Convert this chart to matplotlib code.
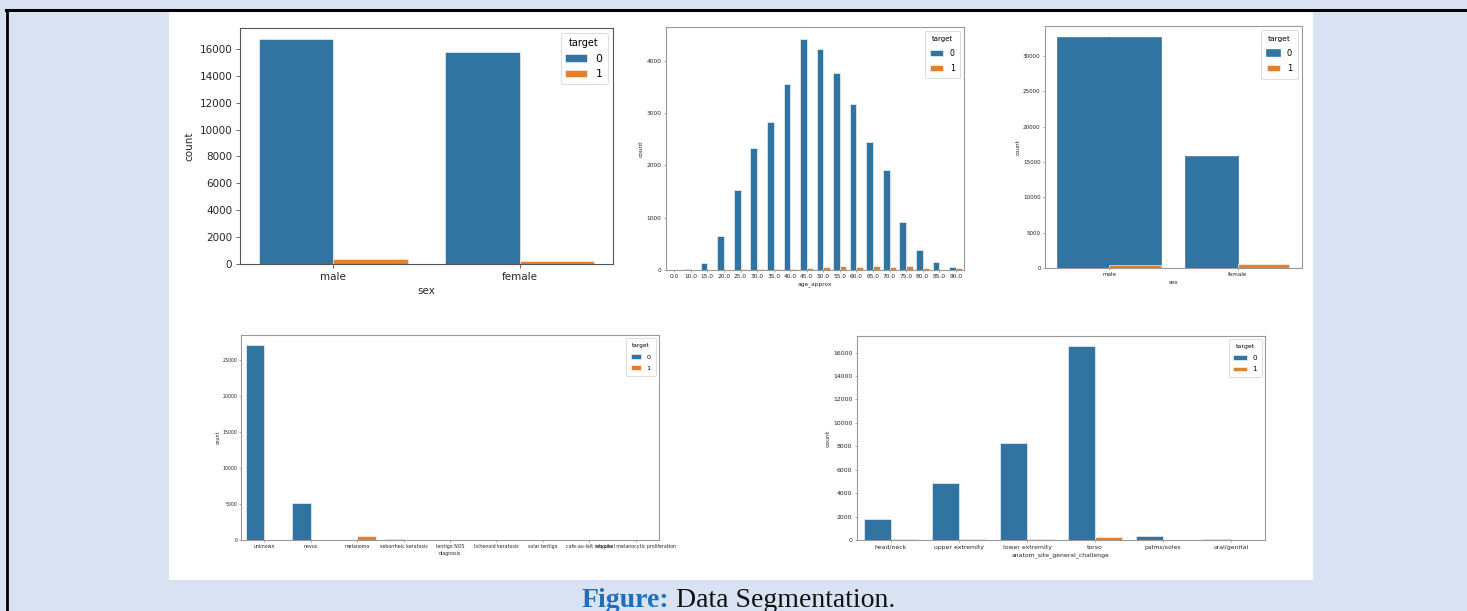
import numpy as np
import matplotlib
matplotlib.use("Agg")
import matplotlib.pyplot as plt
from matplotlib.patches import Rectangle
from matplotlib.lines import Line2D

# ---------------- data ----------------
sex_cats = ['male', 'female']
sex_t0 = [16716, 15761]
sex_t1 = [390, 240]

age_cats = ['0.0', '10.0', '15.0', '20.0', '25.0', '30.0', '35.0', '40.0', '45.0',
            '50.0', '55.0', '60.0', '65.0', '70.0', '75.0', '80.0', '85.0', '90.0']
age_t0 = [2, 17, 129, 652, 1530, 2338, 2828, 3555, 4420,
          4217, 3753, 3179, 2451, 1908, 910, 382, 146, 51]
age_t1 = [0, 0, 0, 3, 14, 20, 22, 21, 46, 53, 71, 61, 76, 60, 71, 37, 3, 29]

sex2_cats = ['male', 'female']
sex2_t0 = [32600, 15730]
sex2_t0_back = [32600, 0]     # second blue bar behind the orange one (male)
sex2_t1 = [360, 580]

diag_cats = ['unknown', 'nevus', 'melanoma', 'seborrheic keratosis', 'lentigo NOS',
             'lichenoid keratosis', 'solar lentigo', 'cafe-au-lait macule',
             'atypical melanocytic proliferation']
diag_t0 = [27124, 5193, 0, 135, 44, 37, 7, 1, 1]
diag_t1 = [0, 0, 584, 0, 0, 0, 0, 0, 0]

site_cats = ['head/neck', 'upper extremity', 'lower extremity', 'torso',
             'palms/soles', 'oral/genital']
site_t0 = [1781, 4872, 8293, 16588, 370, 122]
site_t1 = [74, 111, 124, 257, 5, 2]

legend_title = 'target'
legend_labels = ['0', '1']

BLUE = '#3274a1'
ORANGE = '#e1812c'
BG = '#d9e2f3'

W, H = 1467, 611
fig = plt.figure(figsize=(W / 100, H / 100), dpi=100)
fig.patch.set_facecolor(BG)

# white panel
fig.add_artist(Rectangle((169 / W, 1 - 580 / H), (1313 - 169) / W, (580 - 11) / H,
                         transform=fig.transFigure, facecolor='white', edgecolor='none',
                         zorder=0))
# black borders (top and left)
fig.add_artist(Line2D([6 / W, 1], [1 - 10 / H, 1 - 10 / H], transform=fig.transFigure,
                      color='black', lw=2.2, zorder=1))
fig.add_artist(Line2D([7 / W, 7 / W], [0, 1 - 10 / H], transform=fig.transFigure,
                      color='black', lw=2.0, zorder=1))


def px_axes(x0, y0, x1, y1):
    return fig.add_axes([x0 / W, 1 - y1 / H, (x1 - x0) / W, (y1 - y0) / H])


def style(ax, fs, spine_col, lfs, xlabel, ylabel, tl, lspace=0.5, bpad=0.4, hl=2.0):
    for s in ax.spines.values():
        s.set_color(spine_col)
        s.set_linewidth(0.8)
    ax.tick_params(labelsize=fs, length=tl, width=0.6, color=spine_col,
                   pad=fs * 0.4, labelcolor='#262626')
    ax.set_xlabel(xlabel, fontsize=fs, color='#262626', labelpad=fs * 0.45)
    ax.set_ylabel(ylabel, fontsize=fs, color='#262626', labelpad=fs * 0.45)
    leg = ax.legend(title=legend_title, loc='upper right', fontsize=lfs,
                    title_fontsize=lfs * 0.9, labelspacing=lspace, borderpad=bpad,
                    handlelength=hl)
    leg.get_frame().set_linewidth(0.6)


def countbars(ax, cats, t0, t1, back=None, lw=0.4):
    x = np.arange(len(cats))
    if back is not None:
        ax.bar(x + 0.2, back, 0.4, color=BLUE, edgecolor=BLUE, linewidth=1.2)
        ax.bar(x - 0.2, t0, 0.4, color=BLUE, edgecolor=BLUE, linewidth=1.2,
               label=legend_labels[0])
    else:
        ax.bar(x - 0.2, t0, 0.4, color=BLUE, edgecolor='white', linewidth=lw,
               label=legend_labels[0])
    ax.bar(x + 0.2, t1, 0.4, color=ORANGE, edgecolor='white', linewidth=lw,
           label=legend_labels[1])
    ax.set_xticks(x)
    ax.set_xticklabels(cats)
    ax.set_xlim(-0.5, len(cats) - 0.5)


# panel 1
ax1 = px_axes(240, 28, 613, 264)
countbars(ax1, sex_cats, sex_t0, sex_t1)
style(ax1, 7.5, '#555555', 7.8, 'sex', 'count', 2.6, lspace=0.5, bpad=0.45)

# panel 2
ax2 = px_axes(666, 27, 964, 270)
countbars(ax2, age_cats, age_t0, age_t1)
style(ax2, 4.2, '#999999', 5.6, 'age_approx', 'count', 1.5,
      lspace=0.8, bpad=0.7, hl=1.7)

# panel 3
ax3 = px_axes(1045, 26, 1302, 268)
countbars(ax3, sex2_cats, sex2_t0, sex2_t1, back=sex2_t0_back)
style(ax3, 4.1, '#999999', 6.0, 'sex', 'count', 1.5,
      lspace=0.8, bpad=0.7, hl=1.6)

# panel 4
ax4 = px_axes(241, 335, 659, 540)
countbars(ax4, diag_cats, diag_t0, diag_t1)
style(ax4, 3.4, '#999999', 4.6, 'diagnosis', 'count', 1.2,
      lspace=0.9, bpad=0.8, hl=1.6)

# panel 5
ax5 = px_axes(857, 336, 1265, 540)
countbars(ax5, site_cats, site_t0, site_t1)
style(ax5, 4.4, '#999999', 5.0, 'anatom_site_general_challenge', 'count', 1.6,
      lspace=0.8, bpad=0.7, hl=1.9)

# caption
t1 = fig.text(582 / W, 1 - 607 / H, 'Figure:', fontsize=20, fontweight='bold',
              family='Liberation Serif', color='#1f6fbf', ha='left', va='baseline')
fig.canvas.draw()
bb = t1.get_window_extent()
fig.text(bb.x1 / W + 6 / W, 1 - 607 / H, 'Data Segmentation.', fontsize=20,
         family='Liberation Serif', color='#111111', ha='left', va='baseline')

fig.savefig('out.png', dpi=100, facecolor=BG)
